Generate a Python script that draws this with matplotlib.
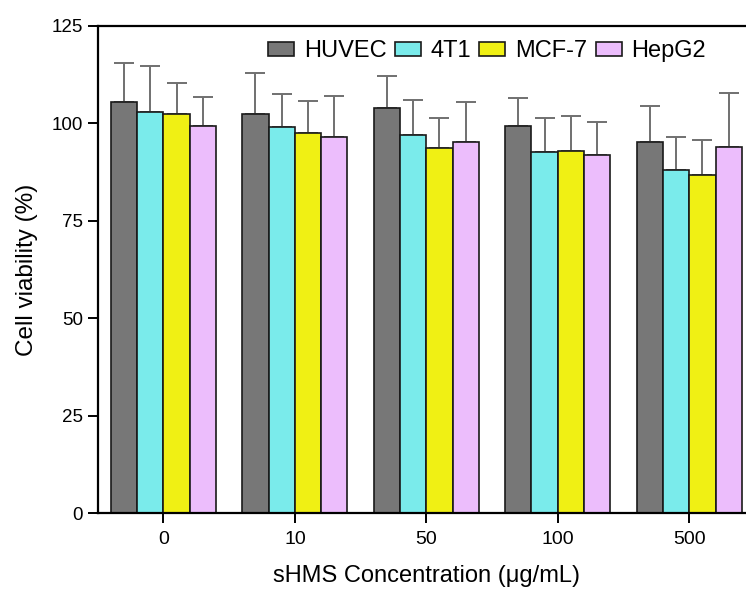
import matplotlib.pyplot as plt
import numpy as np

plt.rcParams['font.family'] = ['Liberation Sans', 'DejaVu Sans']

concs = ['0', '10', '50', '100', '500']
cells = ['HUVEC', '4T1', 'MCF-7', 'HepG2']
colors = ['#777777', '#7aebeb', '#f0f014', '#ecbdfc']

huvec = [105.6, 102.3, 104.0, 99.2, 95.1]
t41 = [103.0, 99.0, 96.9, 92.6, 88.0]
mcf7 = [102.4, 97.4, 93.6, 92.8, 86.7]
hepg2 = [99.3, 96.6, 95.1, 92.0, 93.9]

huvec_sd = [10.0, 10.5, 8.2, 7.4, 9.4]
t41_sd = [11.8, 8.5, 9.1, 8.8, 8.4]
mcf7_sd = [8.0, 8.4, 7.8, 9.1, 9.0]
hepg2_sd = [7.5, 10.4, 10.5, 8.3, 13.9]

means = [huvec, t41, mcf7, hepg2]
sds = [huvec_sd, t41_sd, mcf7_sd, hepg2_sd]

fig = plt.figure(figsize=(7.46, 5.9), dpi=100)
ax = fig.add_axes([0.131, 0.1305, 0.881, 0.8255])

x = np.arange(len(concs))
w = 0.2
for i in range(4):
    pos = x + (i - 1.5) * w
    ax.bar(pos, means[i], w, color=colors[i], edgecolor='#1a1a1a', linewidth=1.2,
           label=cells[i], zorder=2)
    ax.errorbar(pos, means[i], yerr=[np.zeros(5), sds[i]], fmt='none',
                ecolor='#707070', elinewidth=1.4, capsize=7.5, capthick=1.4, zorder=1)

ax.set_xlim(-0.5, 4.5)
ax.set_ylim(0, 125)
ax.set_yticks([0, 25, 50, 75, 100, 125])
ax.set_xticks(x)
ax.set_xticklabels(concs)
ax.tick_params(axis='both', direction='out', length=7, width=1.4)
ax.tick_params(axis='y', labelsize=13.5)
ax.tick_params(axis='x', labelsize=14, pad=6)
for s in ['left', 'bottom', 'top']:
    ax.spines[s].set_linewidth(1.6)
ax.spines['right'].set_visible(False)

ax.set_xlabel('sHMS Concentration (μg/mL)', fontsize=17, labelpad=12)
ax.set_ylabel('Cell viability (%)', fontsize=17.5, labelpad=10)

fig.legend(loc='center right', bbox_to_anchor=(0.975, 0.913), ncol=4, frameon=False,
           fontsize=17, handlelength=1.1, handleheight=0.5, handletextpad=0.42,
           columnspacing=0.35)

fig.savefig('out.png', dpi=100)
